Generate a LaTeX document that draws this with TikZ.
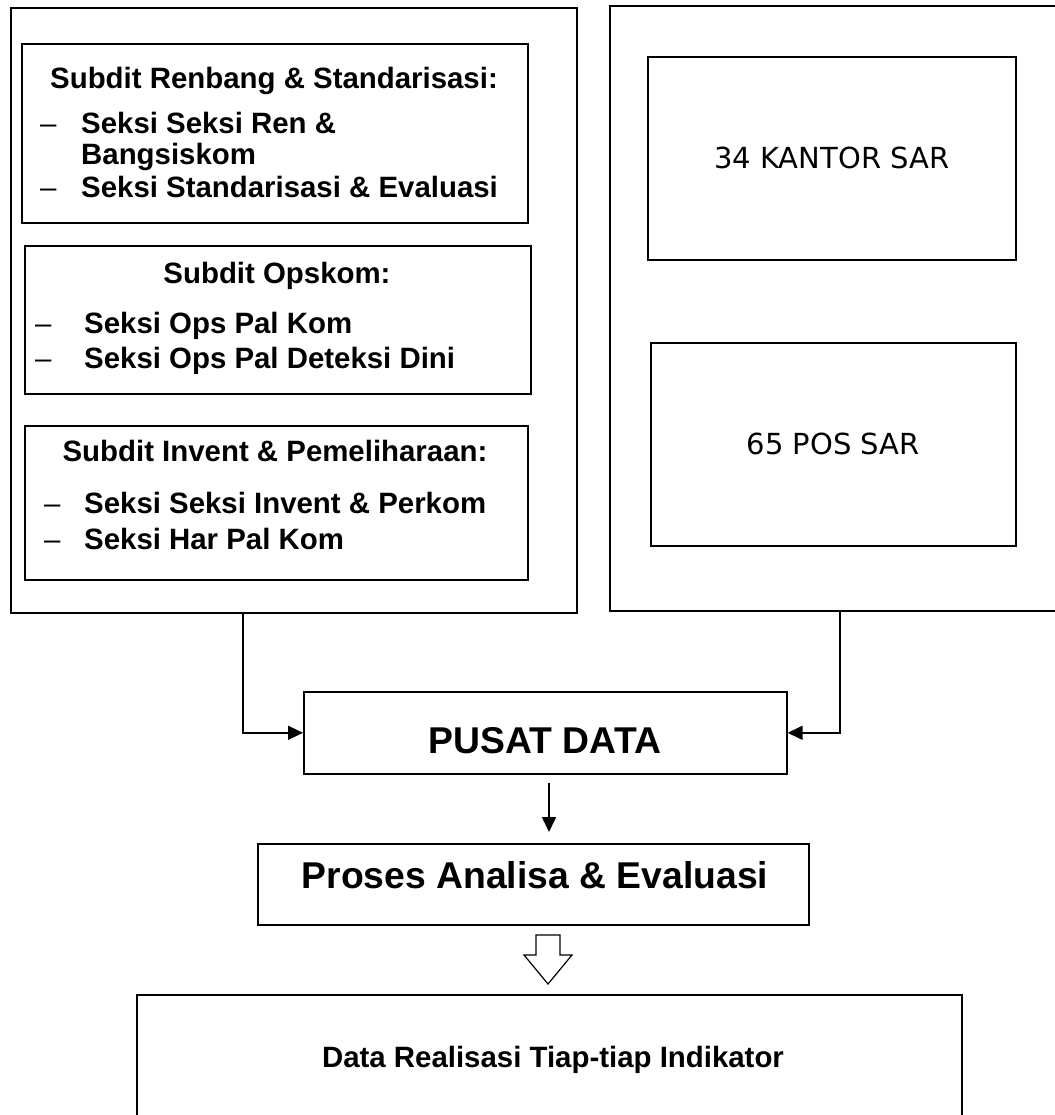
\documentclass[tikz,border=0pt]{standalone}
\usepackage{fontspec}
\setmainfont{Liberation Sans}
\newfontfamily\dejavu{DejaVu Sans}
\usetikzlibrary{arrows.meta}
\begin{document}
\begin{tikzpicture}[x=1pt,y=-1pt,
  box/.style={draw, line width=1.6pt, rectangle, inner sep=0pt, anchor=north west},
  txt/.style={inner sep=0pt, font=\bfseries\fontsize{29.4}{30}\selectfont},
  dsh/.style={inner sep=0pt, font=\fontsize{29.4}{30}\selectfont, anchor=base west},
  item/.style={txt, anchor=base west},
  big/.style={inner sep=0pt, font=\bfseries\fontsize{37.3}{38}\selectfont, anchor=base},
  sar/.style={inner sep=0pt, font=\dejavu\fontsize{29}{30}\selectfont},
  conn/.style={line width=1.6pt, -{Triangle[length=15pt,width=14pt]}},
  line/.style={line width=1.6pt}
]
\useasboundingbox (0,0) rectangle (1054,1115);

% left outer container
\node[box, minimum width=566pt, minimum height=605pt] (leftouter) at (10,7) {};

% Subdit Renbang
\node[box, minimum width=506pt, minimum height=179pt] (b1) at (21,43) {};
\node[txt, anchor=base] (h1) at (274,89) {Subdit Renbang \& Standarisasi:};
\node[dsh] (d1a) at (40,134) {–};
\node[item] (i1a) at (81,134) {Seksi Seksi Ren \&};
\node[item] (i1b) at (81,165) {Bangsiskom};
\node[dsh] (d1c) at (40,198) {–};
\node[item] (i1c) at (81,198) {Seksi Standarisasi \& Evaluasi};

% Subdit Opskom
\node[box, minimum width=506pt, minimum height=148pt] (b2) at (24,245) {};
\node[txt, anchor=base] (h2) at (277,283) {Subdit Opskom:};
\node[dsh] (d2a) at (35,333) {–};
\node[item] (i2a) at (84,333) {Seksi Ops Pal Kom};
\node[dsh] (d2b) at (35,368) {–};
\node[item] (i2b) at (84,368) {Seksi Ops Pal Deteksi Dini};

% Subdit Invent
\node[box, minimum width=503pt, minimum height=154pt] (b3) at (24,425) {};
\node[txt, anchor=base] (h3) at (275,461) {Subdit Invent \& Pemeliharaan:};
\node[dsh] (d3a) at (44,513) {–};
\node[item] (i3a) at (84,513) {Seksi Seksi Invent \& Perkom};
\node[dsh] (d3b) at (44,549) {–};
\node[item] (i3b) at (84,549) {Seksi Har Pal Kom};

% right outer container (cut off at the right)
\coordinate (ro1) at (1070,6);
\coordinate (ro2) at (610,6);
\coordinate (ro3) at (610,611);
\coordinate (ro4) at (1070,611);
\draw[line] (ro1) -- (ro2) -- (ro3) -- (ro4);

\node[box, minimum width=368pt, minimum height=203pt] (kantor) at (647,56) {};
\node[sar] (kantortxt) at (kantor.center) {34 KANTOR SAR};
\node[box, minimum width=365pt, minimum height=203pt] (pos) at (650,342) {};
\node[sar] (postxt) at (pos.center) {65 POS SAR};

% PUSAT DATA
\node[box, minimum width=483pt, minimum height=82pt] (pusat) at (303,691) {};
\node[big] (pusattxt) at (545,753) {PUSAT DATA};

% connectors into PUSAT DATA
\coordinate (lstart) at (243,612);
\coordinate (rstart) at (840,611);
\draw[conn] (lstart) |- (pusat.west);
\draw[conn] (rstart) |- (pusat.east);

% Proses box
\node[box, minimum width=551pt, minimum height=81pt] (proses) at (257,843) {};
\node[big] (prosestxt) at (535,888) {Proses Analisa \& Evaluasi};

\coordinate (a1s) at (549,783);
\coordinate (a1e) at (549,832);
\draw[conn] (a1s) -- (a1e);

% hollow block arrow
\draw[line width=1.2pt, line join=miter] (536,935) -- (560,935) -- (560,955) -- (572,955) -- (548,984) -- (524,955) -- (536,955) -- cycle;

% bottom box (cut off at the bottom)
\coordinate (bb1) at (137,1130);
\coordinate (bb2) at (137,995);
\coordinate (bb3) at (962,995);
\coordinate (bb4) at (962,1130);
\draw[line] (bb1) -- (bb2) -- (bb3) -- (bb4);
\node[txt, anchor=base] (datatxt) at (553,1067) {Data Realisasi Tiap-tiap Indikator};
\end{tikzpicture}
\end{document}
